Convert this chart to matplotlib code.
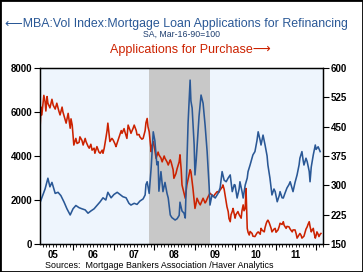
import matplotlib
matplotlib.use("Agg")
import matplotlib.pyplot as plt
from matplotlib.patches import Rectangle
import numpy as np

# ---- data (decimal years) ----
refi_t = [2005.19, 2005.31, 2005.38, 2005.43, 2005.48, 2005.56, 2005.63, 2005.70, 2005.78, 2005.85,
          2005.93, 2006.00, 2006.07, 2006.15, 2006.22, 2006.30, 2006.37, 2006.44, 2006.52, 2006.59,
          2006.67, 2006.74, 2006.81, 2006.86, 2006.94, 2007.01, 2007.09, 2007.16, 2007.23, 2007.31,
          2007.38, 2007.43, 2007.51, 2007.58, 2007.65, 2007.73, 2007.78, 2007.80, 2007.83, 2007.88,
          2007.93, 2007.98, 2008.02, 2008.07, 2008.10, 2008.12, 2008.17, 2008.22, 2008.27, 2008.32,
          2008.35, 2008.40, 2008.44, 2008.52, 2008.57, 2008.62, 2008.64, 2008.69, 2008.74, 2008.77,
          2008.79, 2008.81, 2008.84, 2008.89, 2008.91, 2008.94, 2008.99, 2009.01, 2009.04, 2009.06,
          2009.11, 2009.16, 2009.21, 2009.26, 2009.31, 2009.33, 2009.36, 2009.38, 2009.43, 2009.51,
          2009.58, 2009.63, 2009.68, 2009.73, 2009.78, 2009.83, 2009.88, 2009.93, 2009.98, 2010.00,
          2010.05, 2010.10, 2010.12, 2010.17, 2010.20, 2010.25, 2010.30, 2010.32, 2010.37, 2010.44,
          2010.49, 2010.54, 2010.57, 2010.62, 2010.64, 2010.69, 2010.74, 2010.79, 2010.81, 2010.86,
          2010.91, 2010.96, 2010.99, 2011.04, 2011.09, 2011.11, 2011.16, 2011.19, 2011.23, 2011.28,
          2011.33, 2011.36, 2011.41, 2011.43, 2011.48, 2011.53, 2011.58, 2011.60, 2011.65, 2011.68,
          2011.70, 2011.75, 2011.78, 2011.83, 2011.85, 2011.88, 2011.93, 2011.98, 2012.00, 2012.05,
          2012.10]
refi_v = [1900, 2500, 2990, 2600, 2800, 2300, 2350, 2200, 1900, 1600,
          1320, 1600, 1750, 1650, 1600, 1550, 1400, 1500, 1600, 1750,
          1920, 2100, 2000, 2350, 2100, 2250, 2350, 2250, 2150, 2100,
          1850, 1770, 1850, 1800, 1950, 2050, 2230, 2700, 2830, 2300,
          3500, 5100, 4700, 3600, 3740, 2400, 3290, 2380, 2800, 2300,
          2090, 1320, 1200, 1090, 1150, 1300, 1900, 1500, 1400, 1180,
          2400, 3740, 5500, 7450, 6500, 6180, 4500, 3140, 3800, 4360,
          5800, 6770, 6400, 5400, 4200, 3590, 2600, 1770, 2230, 2090,
          2300, 2545, 3290, 2900, 2830, 3000, 3140, 2380, 2700, 2680,
          2090, 2500, 2830, 2400, 2090, 2680, 3000, 3290, 3590, 4050,
          4200, 4700, 5100, 4700, 4500, 4950, 4500, 4000, 3590, 3000,
          2230, 2500, 2380, 1920, 2200, 2380, 2100, 2090, 2300, 2545,
          2700, 2830, 2500, 2380, 2800, 3140, 3600, 3900, 4200, 3800,
          3590, 3900, 3740, 3300, 2830, 3500, 4050, 4500, 4300, 4420,
          4200]

purch_t = [2005.19, 2005.21, 2005.23, 2005.28, 2005.31, 2005.33, 2005.36, 2005.38, 2005.43, 2005.48,
           2005.51, 2005.56, 2005.60, 2005.65, 2005.68, 2005.73, 2005.75, 2005.80, 2005.83, 2005.88,
           2005.93, 2005.95, 2005.98, 2006.02, 2006.07, 2006.10, 2006.15, 2006.17, 2006.22, 2006.25,
           2006.30, 2006.32, 2006.37, 2006.40, 2006.44, 2006.47, 2006.52, 2006.54, 2006.59, 2006.64,
           2006.67, 2006.72, 2006.74, 2006.77, 2006.79, 2006.81, 2006.84, 2006.86, 2006.89, 2006.91,
           2006.96, 2006.99, 2007.04, 2007.06, 2007.11, 2007.14, 2007.19, 2007.21, 2007.26, 2007.28,
           2007.33, 2007.36, 2007.41, 2007.43, 2007.48, 2007.51, 2007.56, 2007.58, 2007.63, 2007.65,
           2007.70, 2007.73, 2007.78, 2007.80, 2007.83, 2007.85, 2007.88, 2007.93, 2007.95, 2007.98,
           2008.02, 2008.05, 2008.10, 2008.12, 2008.17, 2008.20, 2008.25, 2008.27, 2008.32, 2008.35,
           2008.40, 2008.42, 2008.47, 2008.49, 2008.54, 2008.57, 2008.62, 2008.64, 2008.67, 2008.69,
           2008.74, 2008.77, 2008.79, 2008.81, 2008.86, 2008.89, 2008.91, 2008.94, 2008.96, 2008.99,
           2009.01, 2009.04, 2009.06, 2009.11, 2009.14, 2009.19, 2009.21, 2009.26, 2009.28, 2009.33,
           2009.38, 2009.43, 2009.46, 2009.51, 2009.56, 2009.60, 2009.63, 2009.68, 2009.70, 2009.73,
           2009.78, 2009.80, 2009.83, 2009.85, 2009.88, 2009.90, 2009.93, 2009.95, 2010.00, 2010.02,
           2010.07, 2010.10, 2010.15, 2010.17, 2010.20, 2010.22, 2010.25, 2010.27, 2010.30, 2010.32,
           2010.35, 2010.37, 2010.42, 2010.44, 2010.49, 2010.54, 2010.57, 2010.62, 2010.64, 2010.67,
           2010.72, 2010.74, 2010.77, 2010.79, 2010.81, 2010.84, 2010.86, 2010.89, 2010.91, 2010.96,
           2010.99, 2011.01, 2011.06, 2011.09, 2011.11, 2011.16, 2011.19, 2011.21, 2011.26, 2011.28,
           2011.33, 2011.36, 2011.41, 2011.43, 2011.48, 2011.51, 2011.53, 2011.56, 2011.60, 2011.63,
           2011.65, 2011.70, 2011.73, 2011.75, 2011.78, 2011.80, 2011.83, 2011.85, 2011.88, 2011.90,
           2011.93, 2011.95, 2011.98, 2012.00, 2012.02, 2012.05, 2012.07, 2012.10, 2012.12]
purch_v = [454, 500, 480, 530, 514, 490, 527, 510, 498, 520,
           505, 495, 510, 490, 480, 500, 488, 470, 459, 484,
           446, 470, 454, 403, 420, 407, 410, 424, 415, 403,
           420, 412, 400, 395, 405, 390, 395, 382, 399, 385,
           382, 390, 382, 395, 407, 420, 440, 459, 430, 412,
           420, 416, 405, 399, 415, 424, 440, 433, 445, 437,
           420, 454, 440, 433, 445, 454, 440, 429, 430, 424,
           418, 420, 440, 460, 471, 450, 437, 386, 400, 412,
           390, 369, 385, 378, 370, 360, 375, 369, 360, 352,
           365, 360, 340, 318, 330, 343, 360, 378, 340, 301,
           280, 267, 285, 301, 326, 340, 335, 310, 292, 260,
           241, 255, 267, 255, 250, 262, 267, 255, 258, 270,
           280, 275, 271, 278, 284, 282, 288, 295, 301, 290,
           258, 245, 233, 215, 207, 225, 233, 241, 216, 225,
           233, 225, 216, 235, 250, 235, 241, 292, 190, 180,
           173, 182, 177, 170, 169, 178, 181, 175, 190, 185,
           181, 192, 203, 208, 211, 205, 199, 190, 181, 188,
           190, 180, 186, 195, 203, 200, 207, 198, 190, 195,
           194, 188, 181, 186, 186, 175, 165, 170, 177, 172,
           165, 170, 181, 188, 194, 200, 207, 195, 181, 185,
           190, 178, 165, 172, 181, 175, 169, 175, 177]

recession = (2007.88, 2009.37)
year_labels = ["05", "06", "07", "08", "09", "10", "11"]
left_ticks = [0, 2000, 4000, 6000, 8000]
right_ticks = [150, 225, 300, 375, 450, 525, 600]

BLUE = "#2A5896"
RED = "#CC2200"
FONT = ["Liberation Sans", "DejaVu Sans"]
plt.rcParams["font.family"] = FONT

W, H = 363, 272
fig = plt.figure(figsize=(W / 100, H / 100), dpi=100)
fig.patch.set_facecolor("white")

ax2 = fig.add_axes([40 / W, 1 - 244 / H, 283 / W, 176 / H])
ax = ax2.twinx()
ax2.yaxis.tick_right()
ax.yaxis.tick_left()
ax.yaxis.set_label_position("left")
ax.set_zorder(ax2.get_zorder() + 1)
ax.patch.set_visible(False)
ax2.set_facecolor("#EEF5FD")

ax2.axvspan(recession[0], recession[1], color="#C8C8C8", zorder=0, lw=0)
ax2.plot(purch_t, purch_v, color=RED, lw=1.15)
ax.plot(refi_t, refi_v, color=BLUE, lw=1.15)

ax.set_xlim(2005.185, 2012.17)
ax.set_ylim(0, 8000)
ax2.set_ylim(150, 600)

ax.set_yticks(left_ticks)
ax.set_yticklabels([str(v) for v in left_ticks])
ax2.set_yticks(right_ticks)
ax2.set_yticklabels([str(v) for v in right_ticks])
for a in (ax, ax2):
    a.tick_params(axis="y", length=4, width=0.8, labelsize=7, pad=1.5, colors="black")
    for lab in a.get_yticklabels():
        lab.set_fontweight("bold")
    for s in a.spines.values():
        s.set_linewidth(0.9)
        s.set_color("black")

# x axis: labels at mid-year, year boundary ticks and monthly minor ticks
years = list(range(2005, 2012))
ax2.set_xticks([y + 0.5 for y in years])
ax2.set_xticklabels(year_labels, fontsize=7, fontweight="bold")
ax2.tick_params(axis="x", length=0, pad=4)
ax.tick_params(axis="x", which="both", bottom=False, labelbottom=False, top=False)
sec = ax2.secondary_xaxis("bottom")
sec.set_xticks(list(range(2006, 2013)))
sec.set_xticklabels([])
months = [y + m / 12 for y in range(2005, 2013) for m in range(12)]
sec.set_xticks([m for m in months if 2005.185 <= m <= 2012.17], minor=True)
sec.tick_params(axis="x", which="major", length=4.5, width=0.8)
sec.tick_params(axis="x", which="minor", length=2, width=0.6)
sec.spines["bottom"].set_visible(False)

# titles
fig.text(5 / W, 1 - 24.5 / H, "\u27f5MBA:Vol Index:Mortgage Loan Applications for Refinancing",
         color=BLUE, fontsize=8.9, ha="left", va="center", family=FONT)
fig.text(182 / W, 1 - 34.5 / H, "SA, Mar-16-90=100", color="#1F3F70", fontsize=6.3,
         ha="center", va="center")
fig.text(110 / W, 1 - 50 / H, "Applications for Purchase\u27f6", color=RED, fontsize=9.0,
         ha="left", va="center", family=FONT)
fig.text(45 / W, 1 - 265 / H, "Sources:  Mortgage Bankers Association /Haver Analytics",
         color="black", fontsize=6.4, ha="left", va="center")

fig.add_artist(Rectangle((0, 0), 1, 1, transform=fig.transFigure, fill=False,
                         edgecolor="black", lw=2))

fig.savefig("out.png", dpi=100)
